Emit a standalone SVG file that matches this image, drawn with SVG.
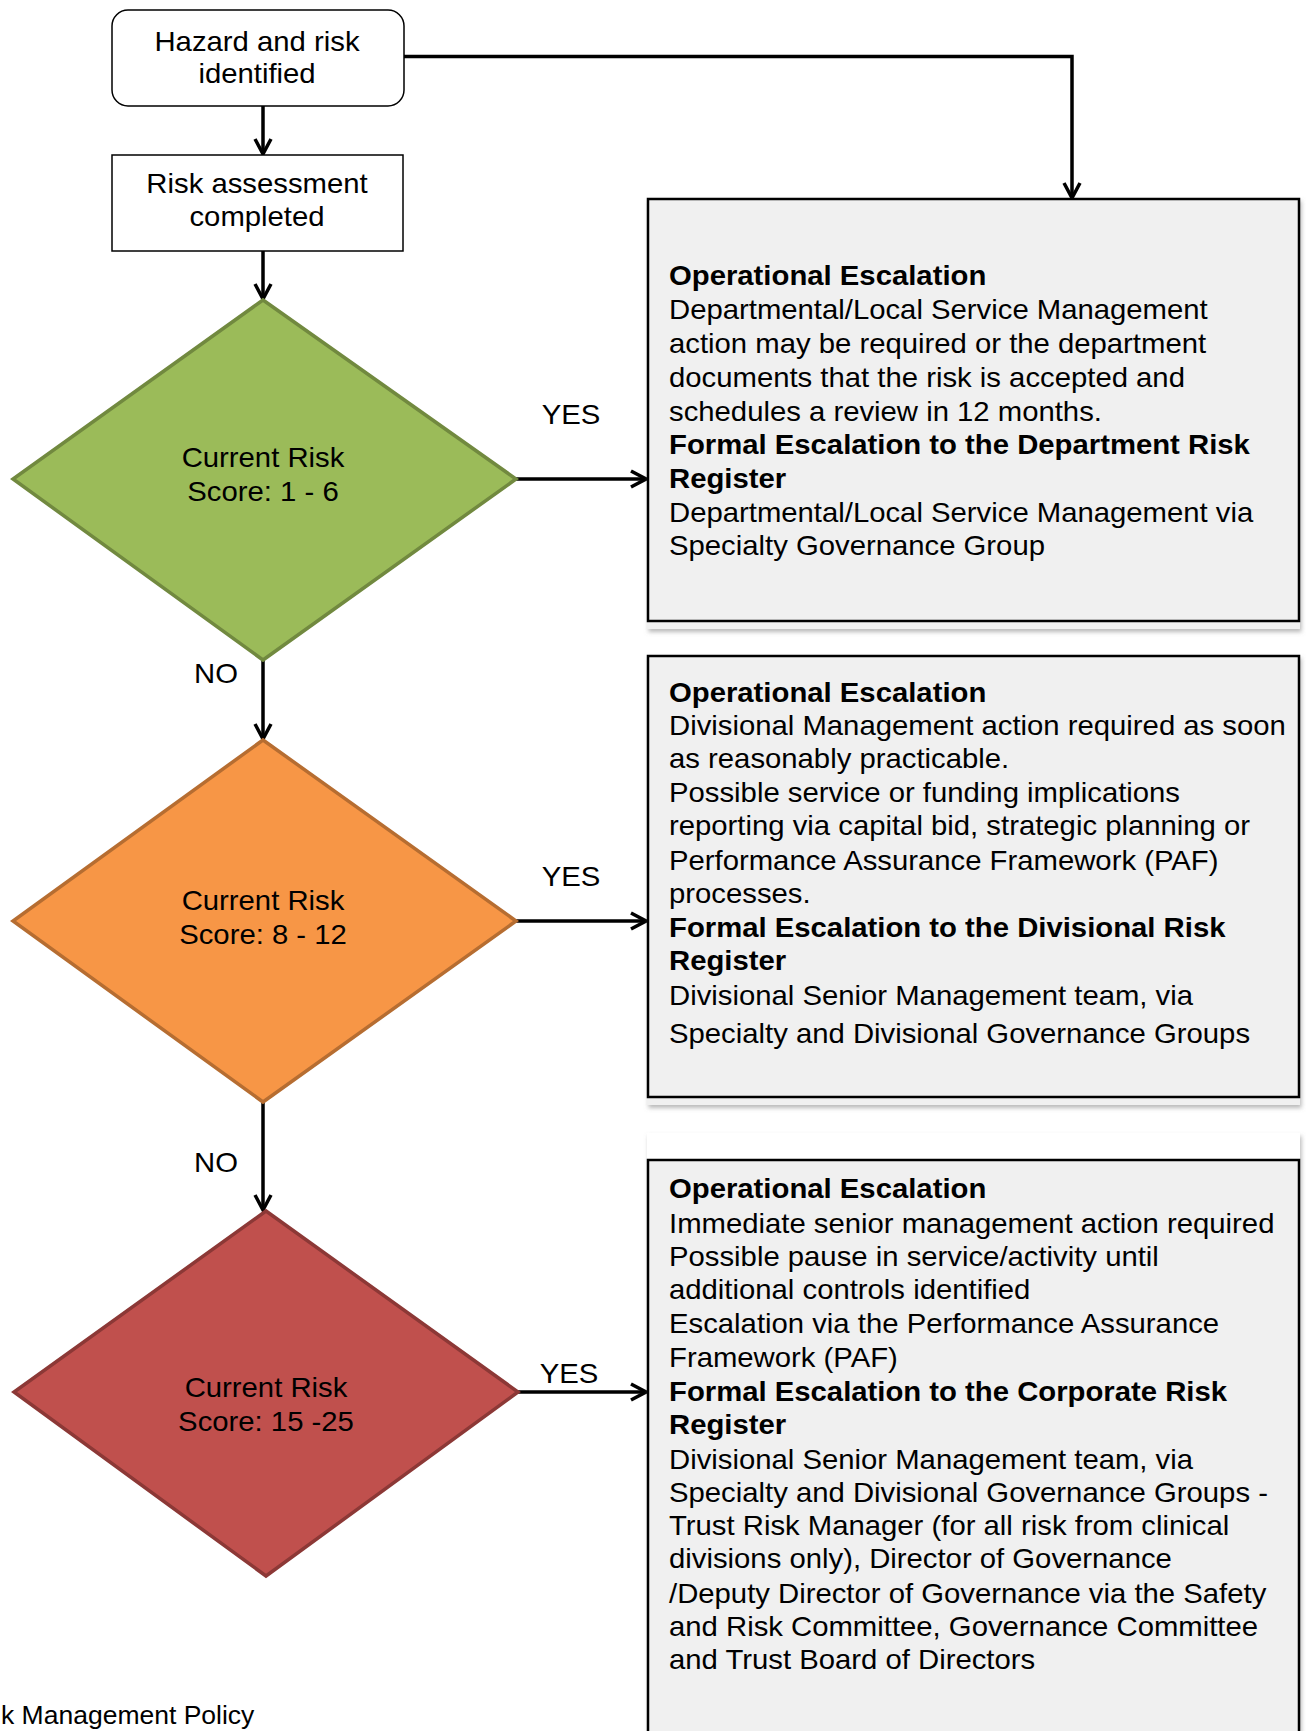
<svg xmlns="http://www.w3.org/2000/svg" width="1306" height="1731" viewBox="0 0 1306 1731">
<style>
.t{font-family:"Liberation Sans",Arial,sans-serif;font-size:27px;fill:#000}
.b{font-weight:bold}
.c{text-anchor:middle}
.conn{stroke:#000;stroke-width:3.5;fill:none}
.inner{fill:#f0f0f0;stroke:#000;stroke-width:2.5}
.outer{fill:#f0f0f0;filter:url(#sh)}
</style>
<defs>
<marker id="arr" viewBox="0 0 20 20" markerWidth="20" markerHeight="20" refX="18" refY="10" orient="auto" markerUnits="userSpaceOnUse">
<path d="M3,2 L18,10 L3,18" fill="none" stroke="#000" stroke-width="3.5"/>
</marker>
<filter id="sh" x="-5%" y="-5%" width="110%" height="110%">
<feDropShadow dx="1.5" dy="3" stdDeviation="2" flood-color="#7f7f7f" flood-opacity="0.55"/>
</filter>
</defs>
<rect width="1306" height="1731" fill="#fff"/>

<g id="connectors">
<line class="conn" x1="263" y1="106" x2="263" y2="154" marker-end="url(#arr)"/>
<polyline class="conn" points="404,56.5 1072,56.5 1072,198" marker-end="url(#arr)"/>
<line class="conn" x1="263" y1="251" x2="263" y2="299" marker-end="url(#arr)"/>
<line class="conn" x1="516" y1="479" x2="646" y2="479" marker-end="url(#arr)"/>
<line class="conn" x1="263" y1="660" x2="263" y2="739" marker-end="url(#arr)"/>
<line class="conn" x1="516" y1="921" x2="646" y2="921" marker-end="url(#arr)"/>
<polyline class="conn" points="263,1102 263,1210" marker-end="url(#arr)"/>
<line class="conn" x1="518" y1="1392" x2="646" y2="1392" marker-end="url(#arr)"/>
<g transform="translate(571,0) scale(1.085,1)"><text class="t c" x="0" y="424">YES</text><text class="t c" x="0" y="886">YES</text></g>
<g transform="translate(569,0) scale(1.085,1)"><text class="t c" x="0" y="1383">YES</text></g>
<g transform="translate(216,0) scale(1.085,1)"><text class="t c" x="0" y="683">NO</text><text class="t c" x="0" y="1172">NO</text></g>
</g>

<g id="hazard">
<rect x="112" y="10" width="292" height="96" rx="16" fill="#fff" stroke="#000" stroke-width="1.5"/>
<g transform="translate(257,0) scale(1.085,1)"><text class="t c" x="0" y="51">Hazard and risk</text><text class="t c" x="0" y="83">identified</text></g>
</g>

<g id="assessment">
<rect x="112" y="155" width="291" height="96" fill="#fff" stroke="#000" stroke-width="1.5"/>
<g transform="translate(257,0) scale(1.085,1)"><text class="t c" x="0" y="193">Risk assessment</text><text class="t c" x="0" y="226">completed</text></g>
</g>

<g id="d1">
<polygon points="263,300 516,479 263,660 13,479" fill="#9bbb59" stroke="#71893f" stroke-width="3.5"/>
<g transform="translate(263,0) scale(1.085,1)"><text class="t c" x="0" y="467">Current Risk</text><text class="t c" x="0" y="501">Score: 1 - 6</text></g>
</g>

<g id="d2">
<polygon points="263,740 516,921 263,1102 13,921" fill="#f79646" stroke="#b66d31" stroke-width="3.5"/>
<g transform="translate(263,0) scale(1.085,1)"><text class="t c" x="0" y="910">Current Risk</text><text class="t c" x="0" y="944">Score: 8 - 12</text></g>
</g>

<g id="d3">
<polygon points="266,1211 518,1392 266,1576 14,1392" fill="#c0504d" stroke="#8c3836" stroke-width="3.5"/>
<g transform="translate(266,0) scale(1.085,1)"><text class="t c" x="0" y="1397">Current Risk</text><text class="t c" x="0" y="1431">Score: 15 -25</text></g>
</g>

<g id="box1">
<rect class="outer" x="647" y="198" width="653" height="431"/>
<rect class="inner" x="648" y="199" width="651" height="422"/>
<g transform="translate(669,0) scale(1.085,1)">
<text class="t b" x="0" y="285">Operational Escalation</text>
<text class="t" x="0" y="319">Departmental/Local Service Management</text>
<text class="t" x="0" y="353">action may be required or the department</text>
<text class="t" x="0" y="387">documents that the risk is accepted and</text>
<text class="t" x="0" y="421">schedules a review in 12 months.</text>
<text class="t b" x="0" y="454">Formal Escalation to the Department Risk</text>
<text class="t b" x="0" y="488">Register</text>
<text class="t" x="0" y="522">Departmental/Local Service Management via</text>
<text class="t" x="0" y="555">Specialty Governance Group</text>
</g>
</g>

<g id="box2">
<rect class="outer" x="647" y="655" width="653" height="450"/>
<rect class="inner" x="648" y="656" width="651" height="441"/>
<g transform="translate(669,0) scale(1.085,1)">
<text class="t b" x="0" y="702">Operational Escalation</text>
<text class="t" x="0" y="735">Divisional Management action required as soon</text>
<text class="t" x="0" y="768">as reasonably practicable.</text>
<text class="t" x="0" y="802">Possible service or funding implications</text>
<text class="t" x="0" y="835">reporting via capital bid, strategic planning or</text>
<text class="t" x="0" y="870">Performance Assurance Framework (PAF)</text>
<text class="t" x="0" y="903">processes.</text>
<text class="t b" x="0" y="937">Formal Escalation to the Divisional Risk</text>
<text class="t b" x="0" y="970">Register</text>
<text class="t" x="0" y="1005">Divisional Senior Management team, via</text>
<text class="t" x="0" y="1043">Specialty and Divisional Governance Groups</text>
</g>
</g>

<g id="box3">
<rect x="647" y="1133" width="653" height="650" fill="#fff" filter="url(#sh)"/>
<rect class="inner" x="648" y="1160" width="651" height="620"/>
<g transform="translate(669,0) scale(1.085,1)">
<text class="t b" x="0" y="1198">Operational Escalation</text>
<text class="t" x="0" y="1233">Immediate senior management action required</text>
<text class="t" x="0" y="1266">Possible pause in service/activity until</text>
<text class="t" x="0" y="1299">additional controls identified</text>
<text class="t" x="0" y="1333">Escalation via the Performance Assurance</text>
<text class="t" x="0" y="1367">Framework (PAF)</text>
<text class="t b" x="0" y="1401">Formal Escalation to the Corporate Risk</text>
<text class="t b" x="0" y="1434">Register</text>
<text class="t" x="0" y="1469">Divisional Senior Management team, via</text>
<text class="t" x="0" y="1502">Specialty and Divisional Governance Groups -</text>
<text class="t" x="0" y="1535">Trust Risk Manager (for all risk from clinical</text>
<text class="t" x="0" y="1568">divisions only), Director of Governance</text>
<text class="t" x="0" y="1603">/Deputy Director of Governance via the Safety</text>
<text class="t" x="0" y="1636">and Risk Committee, Governance Committee</text>
<text class="t" x="0" y="1669">and Trust Board of Directors</text>
</g>
</g>

<g id="footer">
<text x="1" y="1724" style="font-family:'Liberation Sans',Arial,sans-serif;font-size:26.5px">k Management Policy</text>
</g>
</svg>
